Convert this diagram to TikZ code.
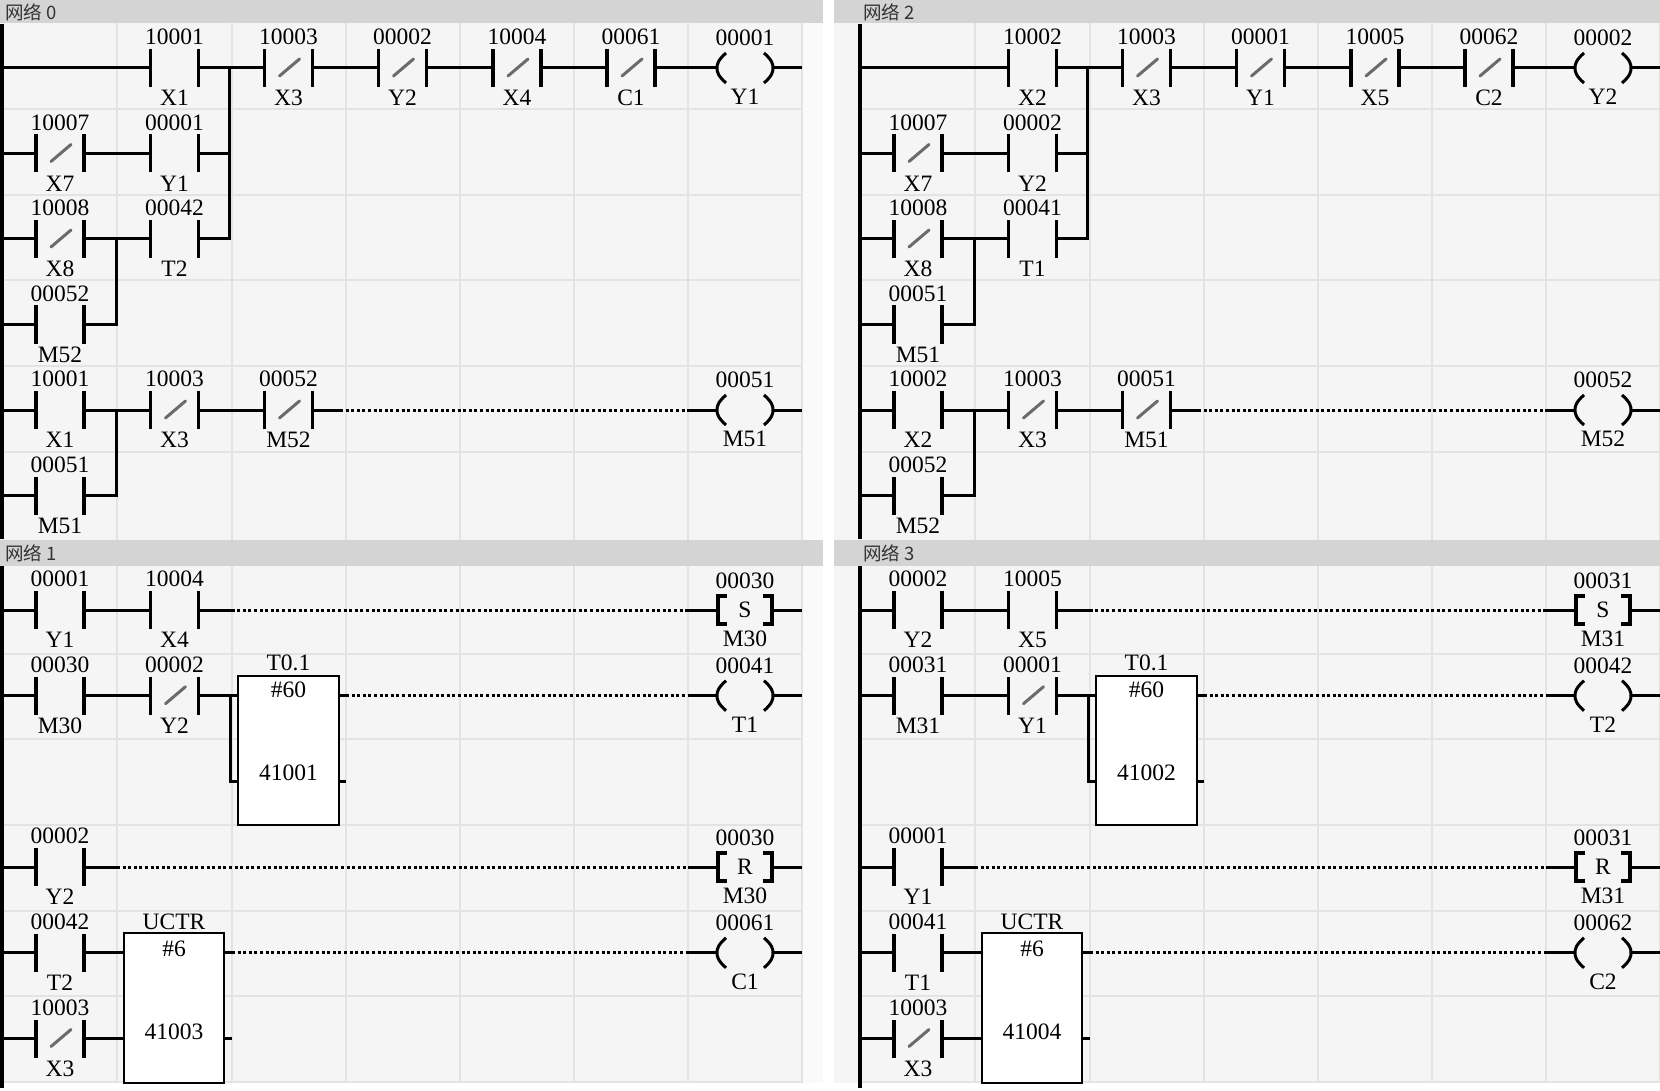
\documentclass[tikz,border=0pt]{standalone}
\usepackage{fontspec}
\setmainfont{Liberation Serif}
\newfontfamily\cjkfont{Noto Sans CJK SC}
\tikzset{
  wire/.style={line width=3pt},
  bar/.style={line width=3.6pt},
  railline/.style={line width=3.2pt},
  slashline/.style={line width=3pt, draw=black!58, line cap=round},
  dotwire/.style={line width=3pt, dash pattern=on 3pt off 2.6pt},
  lab/.style={font=\fontsize{23.5}{23.5}\selectfont, inner sep=0pt},
  gridline/.style={draw=black!11, line width=2pt},
  headtxt/.style={font=\cjkfont\fontsize{18.5}{18.5}\selectfont, text=black!80, inner sep=0pt, anchor=west},
  fbox/.style={draw, line width=2pt, fill=white, inner sep=0pt},
  pics/nocon/.style n args={2}{code={
    \draw[bar] (-24,-19) -- (-24,19) (24,-19) -- (24,19);
    \node[lab] (-t) at (0,-31) {#1};
    \node[lab] (-b) at (0,30) {#2};
    \coordinate (-l) at (-24,0);
    \coordinate (-r) at (24,0);
  }},
  pics/nccon/.style n args={2}{code={
    \draw[bar] (-24,-19) -- (-24,19) (24,-19) -- (24,19);
    \draw[slashline] (-9,8) -- (11,-9);
    \node[lab] (-t) at (0,-31) {#1};
    \node[lab] (-b) at (0,30) {#2};
    \coordinate (-l) at (-24,0);
    \coordinate (-r) at (24,0);
  }},
  pics/coil/.style n args={2}{code={
    \draw[wire, line join=round] (-19,-15) .. controls (-27,-8) and (-28,-4) .. (-28,0) .. controls (-28,4) and (-27,8) .. (-19,15);
    \draw[wire, line join=round] (19,-15) .. controls (27,-8) and (28,-4) .. (28,0) .. controls (28,4) and (27,8) .. (19,15);
    \node[lab] (-t) at (0,-30) {#1};
    \node[lab] (-b) at (0,29) {#2};
    \coordinate (-l) at (-28,0);
    \coordinate (-r) at (28,0);
  }},
  pics/srcoil/.style n args={3}{code={
    \draw[bar] (-18,-14) -- (-27,-14) -- (-27,14) -- (-18,14);
    \draw[bar] (18,-14) -- (27,-14) -- (27,14) -- (18,14);
    \node[lab] (-m) at (0,0) {#2};
    \node[lab] (-t) at (0,-29) {#1};
    \node[lab] (-b) at (0,29) {#3};
    \coordinate (-l) at (-27,0);
    \coordinate (-r) at (27,0);
  }},
}
\begin{document}
\begin{tikzpicture}[x=1pt,y=-1pt]
\useasboundingbox (0,0) rectangle (1660,1091);
\fill[white] (0,0) rectangle (1660,1091);
% backgrounds
\fill[black!4] (0,23) rectangle (801.5,540);
\fill[black!2] (801.5,23) rectangle (823,540);
\fill[black!4] (834,23) rectangle (1660,540);
\fill[black!4] (0,566) rectangle (801.5,1083);
\fill[black!2] (801.5,566) rectangle (823,1083);
\fill[black!4] (834,566) rectangle (1660,1083);
% headers
\fill[black!17] (0,0) rectangle (823,23);
\fill[black!17] (834,0) rectangle (1660,23);
\fill[black!17] (0,540) rectangle (823,566);
\fill[black!17] (834,540) rectangle (1660,566);
\node[headtxt] (hd0) at (5,12) {网络 0};
\node[headtxt] (hd2) at (863,12) {网络 2};
\node[headtxt] (hd1) at (5,553) {网络 1};
\node[headtxt] (hd3) at (863,553) {网络 3};
% grids
\foreach \s in {0,858}{
  \foreach \x in {117,231.5,345.5,459.5,573.5,687.5,801.5}{
    \draw[gridline] (\x+\s,23) -- (\x+\s,540);
    \draw[gridline] (\x+\s,566) -- (\x+\s,1083);
  }
  \foreach \y in {109.5,195,280.5,366,451.5}{
    \draw[gridline] (2+\s,\y) -- (801.5+\s,\y);
  }
  \foreach \y in {653.5,739.2,824.9,910.6,996.3,1082}{
    \draw[gridline] (2+\s,\y) -- (801.5+\s,\y);
  }
  \draw[railline] (2+\s,24) -- (2+\s,539);
  \draw[railline] (2+\s,566) -- (2+\s,1088);
}

%% ===== Network 0 =====
\begin{scope}
\coordinate (a0) at (2,68);
\pic (a1) at (174.5,68) {nocon={10001}{X1}};
\pic (a2) at (288.5,68) {nccon={10003}{X3}};
\pic (a3) at (402.5,68) {nccon={00002}{Y2}};
\pic (a4) at (517,68) {nccon={10004}{X4}};
\pic (a5) at (631,68) {nccon={00061}{C1}};
\pic (a6) at (745,68) {coil={00001}{Y1}};
\coordinate (aj) at (229.5,68);
\coordinate (ae) at (801.5,68);
\draw[wire] (a0) -- (a1-l) (a1-r) -- (a2-l) (a2-r) -- (a3-l) (a3-r) -- (a4-l) (a4-r) -- (a5-l) (a5-r) -- (a6-l) (a6-r) -- (ae);
\coordinate (b0) at (2,153.5);
\pic (b1) at (60,153.5) {nccon={10007}{X7}};
\pic (b2) at (174.5,153.5) {nocon={00001}{Y1}};
\coordinate (bj) at (229.5,153.5);
\draw[wire] (b0) -- (b1-l) (b1-r) -- (b2-l) (b2-r) -- (bj);
\coordinate (c0) at (2,239);
\pic (c1) at (60,239) {nccon={10008}{X8}};
\pic (c2) at (174.5,239) {nocon={00042}{T2}};
\coordinate (cj) at (229.5,239);
\coordinate (ck) at (116,239);
\draw[wire] (c0) -- (c1-l) (c1-r) -- (c2-l);
\draw[wire] (c2-r) -- (cj) -- (aj);
\coordinate (d0) at (2,324.5);
\pic (d1) at (60,324.5) {nocon={00052}{M52}};
\coordinate (dk) at (116,324.5);
\draw[wire] (d0) -- (d1-l) (d1-r) -- (dk) -- (ck);
\coordinate (e0) at (2,410);
\pic (e1) at (60,410) {nocon={10001}{X1}};
\pic (e2) at (174.5,410) {nccon={10003}{X3}};
\pic (e3) at (288.5,410) {nccon={00052}{M52}};
\pic (e4) at (745,410) {coil={00051}{M51}};
\coordinate (ek) at (116,410);
\coordinate (es) at (340,410);
\coordinate (ed) at (688,410);
\coordinate (ee) at (801.5,410);
\draw[wire] (e0) -- (e1-l) (e1-r) -- (e2-l) (e2-r) -- (e3-l) (e3-r) -- (es);
\draw[dotwire] (es) -- (ed);
\draw[wire] (ed) -- (e4-l) (e4-r) -- (ee);
\coordinate (f0) at (2,495.5);
\pic (f1) at (60,495.5) {nocon={00051}{M51}};
\coordinate (fk) at (116,495.5);
\draw[wire] (f0) -- (f1-l) (f1-r) -- (fk) -- (ek);
\end{scope}

%% ===== Network 2 =====
\begin{scope}[shift={(858,0)}]
\coordinate (A0) at (2,68);
\pic (A1) at (174.5,68) {nocon={10002}{X2}};
\pic (A2) at (288.5,68) {nccon={10003}{X3}};
\pic (A3) at (402.5,68) {nccon={00001}{Y1}};
\pic (A4) at (517,68) {nccon={10005}{X5}};
\pic (A5) at (631,68) {nccon={00062}{C2}};
\pic (A6) at (745,68) {coil={00002}{Y2}};
\coordinate (Aj) at (229.5,68);
\coordinate (Ae) at (801.5,68);
\draw[wire] (A0) -- (A1-l) (A1-r) -- (A2-l) (A2-r) -- (A3-l) (A3-r) -- (A4-l) (A4-r) -- (A5-l) (A5-r) -- (A6-l) (A6-r) -- (Ae);
\coordinate (B0) at (2,153.5);
\pic (B1) at (60,153.5) {nccon={10007}{X7}};
\pic (B2) at (174.5,153.5) {nocon={00002}{Y2}};
\coordinate (Bj) at (229.5,153.5);
\draw[wire] (B0) -- (B1-l) (B1-r) -- (B2-l) (B2-r) -- (Bj);
\coordinate (C0) at (2,239);
\pic (C1) at (60,239) {nccon={10008}{X8}};
\pic (C2) at (174.5,239) {nocon={00041}{T1}};
\coordinate (Cj) at (229.5,239);
\coordinate (Ck) at (116,239);
\draw[wire] (C0) -- (C1-l) (C1-r) -- (C2-l);
\draw[wire] (C2-r) -- (Cj) -- (Aj);
\coordinate (D0) at (2,324.5);
\pic (D1) at (60,324.5) {nocon={00051}{M51}};
\coordinate (Dk) at (116,324.5);
\draw[wire] (D0) -- (D1-l) (D1-r) -- (Dk) -- (Ck);
\coordinate (E0) at (2,410);
\pic (E1) at (60,410) {nocon={10002}{X2}};
\pic (E2) at (174.5,410) {nccon={10003}{X3}};
\pic (E3) at (288.5,410) {nccon={00051}{M51}};
\pic (E4) at (745,410) {coil={00052}{M52}};
\coordinate (Ek) at (116,410);
\coordinate (Es) at (340,410);
\coordinate (Ed) at (688,410);
\coordinate (Ee) at (801.5,410);
\draw[wire] (E0) -- (E1-l) (E1-r) -- (E2-l) (E2-r) -- (E3-l) (E3-r) -- (Es);
\draw[dotwire] (Es) -- (Ed);
\draw[wire] (Ed) -- (E4-l) (E4-r) -- (Ee);
\coordinate (F0) at (2,495.5);
\pic (F1) at (60,495.5) {nocon={00052}{M52}};
\coordinate (Fk) at (116,495.5);
\draw[wire] (F0) -- (F1-l) (F1-r) -- (Fk) -- (Ek);
\end{scope}

%% ===== Network 1 =====
\begin{scope}
\coordinate (g0) at (2,610);
\pic (g1) at (60,610) {nocon={00001}{Y1}};
\pic (g2) at (174.5,610) {nocon={10004}{X4}};
\pic (g3) at (745,610) {srcoil={00030}{S}{M30}};
\coordinate (gs) at (231.5,610);
\coordinate (gd) at (688,610);
\coordinate (ge) at (801.5,610);
\draw[wire] (g0) -- (g1-l) (g1-r) -- (g2-l) (g2-r) -- (gs);
\draw[dotwire] (gs) -- (gd);
\draw[wire] (gd) -- (g3-l) (g3-r) -- (ge);
% row 1 with timer
\coordinate (h0) at (2,695.7);
\pic (h1) at (60,695.7) {nocon={00030}{M30}};
\pic (h2) at (174.5,695.7) {nccon={00002}{Y2}};
\node[fbox, minimum width=101pt, minimum height=149pt] (tm1) at (288.5,750.5) {};
\node[lab] (tm1h) at (288.5,663) {T0.1};
\node[lab] (tm1p) at (288.5,690) {\#60};
\node[lab] (tm1a) at (288.5,773) {41001};
\pic (h3) at (745,695.7) {coil={00041}{T1}};
\coordinate (hv1) at (230,695.7);
\coordinate (hv2) at (230,781.4);
\coordinate (hs) at (346,695.7);
\coordinate (hd) at (688,695.7);
\coordinate (he) at (801.5,695.7);
\coordinate (hq) at (346,781.4);
\draw[wire] (h0) -- (h1-l) (h1-r) -- (h2-l) (h2-r) -- (tm1.west |- h2-r);
\draw[wire] (hv1) -- (hv2) -- (tm1.west |- hv2);
\draw[wire] (tm1.east |- hs) -- (hs);
\draw[dotwire] (hs) -- (hd);
\draw[wire] (hd) -- (h3-l) (h3-r) -- (he);
\draw[wire] (tm1.east |- hq) -- (hq);
% row 3
\coordinate (i0) at (2,867.1);
\pic (i1) at (60,867.1) {nocon={00002}{Y2}};
\pic (i2) at (745,867.1) {srcoil={00030}{R}{M30}};
\coordinate (is) at (117,867.1);
\coordinate (id) at (688,867.1);
\coordinate (ie) at (801.5,867.1);
\draw[wire] (i0) -- (i1-l) (i1-r) -- (is);
\draw[dotwire] (is) -- (id);
\draw[wire] (id) -- (i2-l) (i2-r) -- (ie);
% row 4 with counter
\coordinate (k0) at (2,952.8);
\pic (k1) at (60,952.8) {nocon={00042}{T2}};
\node[fbox, minimum width=100pt, minimum height=150pt] (ct1) at (174,1008) {};
\node[lab] (ct1h) at (174,922) {UCTR};
\node[lab] (ct1p) at (174,949) {\#6};
\node[lab] (ct1a) at (174,1032) {41003};
\pic (k2) at (745,952.8) {coil={00061}{C1}};
\coordinate (ks) at (232,952.8);
\coordinate (kd) at (688,952.8);
\coordinate (ke) at (801.5,952.8);
\draw[wire] (k0) -- (k1-l) (k1-r) -- (ct1.west |- k1-r);
\draw[wire] (ct1.east |- ks) -- (ks);
\draw[dotwire] (ks) -- (kd);
\draw[wire] (kd) -- (k2-l) (k2-r) -- (ke);
% row 5
\coordinate (l0) at (2,1038.5);
\pic (l1) at (60,1038.5) {nccon={10003}{X3}};
\coordinate (lq) at (232,1038.5);
\draw[wire] (l0) -- (l1-l) (l1-r) -- (ct1.west |- l1-r);
\draw[wire] (ct1.east |- lq) -- (lq);
\end{scope}

%% ===== Network 3 =====
\begin{scope}[shift={(858,0)}]
\coordinate (G0) at (2,610);
\pic (G1) at (60,610) {nocon={00002}{Y2}};
\pic (G2) at (174.5,610) {nocon={10005}{X5}};
\pic (G3) at (745,610) {srcoil={00031}{S}{M31}};
\coordinate (Gs) at (231.5,610);
\coordinate (Gd) at (688,610);
\coordinate (Ge) at (801.5,610);
\draw[wire] (G0) -- (G1-l) (G1-r) -- (G2-l) (G2-r) -- (Gs);
\draw[dotwire] (Gs) -- (Gd);
\draw[wire] (Gd) -- (G3-l) (G3-r) -- (Ge);
% row 1 with timer
\coordinate (H0) at (2,695.7);
\pic (H1) at (60,695.7) {nocon={00031}{M31}};
\pic (H2) at (174.5,695.7) {nccon={00001}{Y1}};
\node[fbox, minimum width=101pt, minimum height=149pt] (tm3) at (288.5,750.5) {};
\node[lab] (tm3h) at (288.5,663) {T0.1};
\node[lab] (tm3p) at (288.5,690) {\#60};
\node[lab] (tm3a) at (288.5,773) {41002};
\pic (H3) at (745,695.7) {coil={00042}{T2}};
\coordinate (Hv1) at (230,695.7);
\coordinate (Hv2) at (230,781.4);
\coordinate (Hs) at (346,695.7);
\coordinate (Hd) at (688,695.7);
\coordinate (He) at (801.5,695.7);
\coordinate (Hq) at (346,781.4);
\draw[wire] (H0) -- (H1-l) (H1-r) -- (H2-l) (H2-r) -- (tm3.west |- H2-r);
\draw[wire] (Hv1) -- (Hv2) -- (tm3.west |- Hv2);
\draw[wire] (tm3.east |- Hs) -- (Hs);
\draw[dotwire] (Hs) -- (Hd);
\draw[wire] (Hd) -- (H3-l) (H3-r) -- (He);
\draw[wire] (tm3.east |- Hq) -- (Hq);
% row 3
\coordinate (I0) at (2,867.1);
\pic (I1) at (60,867.1) {nocon={00001}{Y1}};
\pic (I2) at (745,867.1) {srcoil={00031}{R}{M31}};
\coordinate (Is) at (117,867.1);
\coordinate (Id) at (688,867.1);
\coordinate (Ie) at (801.5,867.1);
\draw[wire] (I0) -- (I1-l) (I1-r) -- (Is);
\draw[dotwire] (Is) -- (Id);
\draw[wire] (Id) -- (I2-l) (I2-r) -- (Ie);
% row 4 with counter
\coordinate (K0) at (2,952.8);
\pic (K1) at (60,952.8) {nocon={00041}{T1}};
\node[fbox, minimum width=100pt, minimum height=150pt] (ct3) at (174,1008) {};
\node[lab] (ct3h) at (174,922) {UCTR};
\node[lab] (ct3p) at (174,949) {\#6};
\node[lab] (ct3a) at (174,1032) {41004};
\pic (K2) at (745,952.8) {coil={00062}{C2}};
\coordinate (Ks) at (232,952.8);
\coordinate (Kd) at (688,952.8);
\coordinate (Ke) at (801.5,952.8);
\draw[wire] (K0) -- (K1-l) (K1-r) -- (ct3.west |- K1-r);
\draw[wire] (ct3.east |- Ks) -- (Ks);
\draw[dotwire] (Ks) -- (Kd);
\draw[wire] (Kd) -- (K2-l) (K2-r) -- (Ke);
% row 5
\coordinate (L0) at (2,1038.5);
\pic (L1) at (60,1038.5) {nccon={10003}{X3}};
\coordinate (Lq) at (232,1038.5);
\draw[wire] (L0) -- (L1-l) (L1-r) -- (ct3.west |- L1-r);
\draw[wire] (ct3.east |- Lq) -- (Lq);
\end{scope}
\end{tikzpicture}
\end{document}
